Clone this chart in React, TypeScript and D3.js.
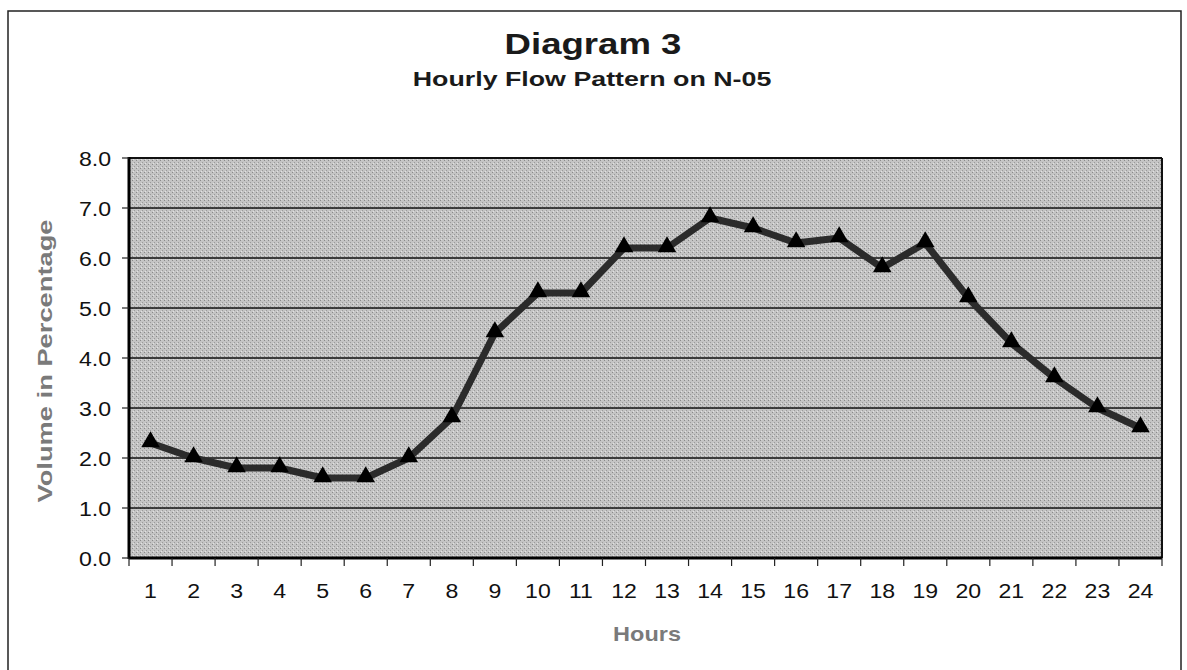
import React from "react";
import * as d3 from "d3";

const hours = ["1","2","3","4","5","6","7","8","9","10","11","12","13","14","15","16","17","18","19","20","21","22","23","24"];
const volumePct = [2.3, 2.0, 1.8, 1.8, 1.6, 1.6, 2.0, 2.8, 4.5, 5.3, 5.3, 6.2, 6.2, 6.8, 6.6, 6.3, 6.4, 5.8, 6.3, 5.2, 4.3, 3.6, 3.0, 2.6];
const yTicks = [0, 1, 2, 3, 4, 5, 6, 7, 8];

const W = 1187;
const H = 670;
const plot = { left: 129, right: 1162, top: 158, bottom: 558 };
const font = "Arial, 'Liberation Sans', Helvetica, sans-serif";

export default function App() {
  const x = d3.scaleBand().domain(hours).range([plot.left, plot.right]);
  const y = d3.scaleLinear().domain([0, 8]).range([plot.bottom, plot.top]);

  const path = d3
    .line<number>()
    .x((d, i) => x(hours[i])! + x.bandwidth() / 2)
    .y((d) => y(d))(volumePct);

  const tri = d3.symbol().type(d3.symbolTriangle).size(150)();

  const boundaries = hours.map((h) => x(h)!).concat([plot.right]);

  return (
    <svg
      width={W}
      height={H}
      style={{ position: "absolute", left: 0, top: 0, background: "#fff" }}
      fontFamily={font}
    >
      <defs>
        <pattern id="dots" width="4" height="4" patternUnits="userSpaceOnUse">
          <rect width="4" height="4" fill="#c4c4c4" />
          <rect x="0" y="0" width="1" height="1" fill="#8a8a8a" />
          <rect x="2" y="2" width="1" height="1" fill="#9a9a9a" />
          <rect x="1" y="3" width="1" height="1" fill="#e2e2e2" />
        </pattern>
      </defs>

      {/* outer frame */}
      <rect x={8} y={11} width={1173} height={700} fill="none" stroke="#222" strokeWidth={1.5} />

      {/* titles */}
      <g transform="translate(593,54) scale(1.22,1)">
        <text textAnchor="middle" fontSize={30} fontWeight="bold" fill="#1a1a1a">
          Diagram 3
        </text>
      </g>
      <g transform="translate(592,86) scale(1.34,1)">
        <text textAnchor="middle" fontSize={20} fontWeight="bold" fill="#1a1a1a">
          Hourly Flow Pattern on N-05
        </text>
      </g>

      {/* plot area */}
      <rect
        x={plot.left}
        y={plot.top}
        width={plot.right - plot.left}
        height={plot.bottom - plot.top}
        fill="url(#dots)"
      />

      {/* gridlines */}
      {yTicks.slice(1, -1).map((t) => (
        <line key={t} x1={plot.left} x2={plot.right} y1={y(t)} y2={y(t)} stroke="#111" strokeWidth={1.3} />
      ))}

      {/* frame of plot */}
      <line x1={plot.left} x2={plot.right} y1={plot.top} y2={plot.top} stroke="#111" strokeWidth={2} />
      <line x1={plot.right} x2={plot.right} y1={plot.top} y2={plot.bottom} stroke="#111" strokeWidth={2} />
      <line x1={plot.left} x2={plot.left} y1={plot.top - 1} y2={plot.bottom + 1} stroke="#000" strokeWidth={3} />
      <line x1={plot.left} x2={plot.right} y1={plot.bottom} y2={plot.bottom} stroke="#000" strokeWidth={3} />

      {/* y ticks */}
      {yTicks.map((t) => (
        <g key={t}>
          <line x1={plot.left - 7} x2={plot.left} y1={y(t)} y2={y(t)} stroke="#222" strokeWidth={1.2} />
          <text
            transform={`translate(111,${y(t)}) scale(1.1,1)`}
            dy="0.36em"
            textAnchor="end"
            fontSize={21}
            fill="#111"
          >
            {t.toFixed(1)}
          </text>
        </g>
      ))}

      {/* x ticks */}
      {boundaries.map((b, i) => (
        <line key={i} x1={b} x2={b} y1={plot.bottom} y2={plot.bottom + 8} stroke="#222" strokeWidth={1.2} />
      ))}
      {hours.map((h) => (
        <text
          key={h}
          transform={`translate(${x(h)! + x.bandwidth() / 2},598) scale(1.1,1)`}
          textAnchor="middle"
          fontSize={21}
          fill="#111"
        >
          {h}
        </text>
      ))}

      {/* series */}
      <path d={path ?? ""} fill="none" stroke="#2b2b2b" strokeWidth={7} strokeLinejoin="round" />
      {volumePct.map((v, i) => (
        <path
          key={i}
          d={tri ?? ""}
          transform={`translate(${x(hours[i])! + x.bandwidth() / 2},${y(v) - 1})`}
          fill="#000"
        />
      ))}

      {/* axis titles */}
      <text
        transform="translate(647,641) scale(1.12,1)"
        textAnchor="middle"
        fontSize={21}
        fontWeight="bold"
        fill="#7a7a7a"
      >
        Hours
      </text>
      <text
        transform={`translate(52,${(plot.top + plot.bottom) / 2 + 3}) rotate(-90) scale(1.3,1)`}
        textAnchor="middle"
        fontSize={21}
        fontWeight="bold"
        fill="#7a7a7a"
      >
        Volume in Percentage
      </text>
    </svg>
  );
}
